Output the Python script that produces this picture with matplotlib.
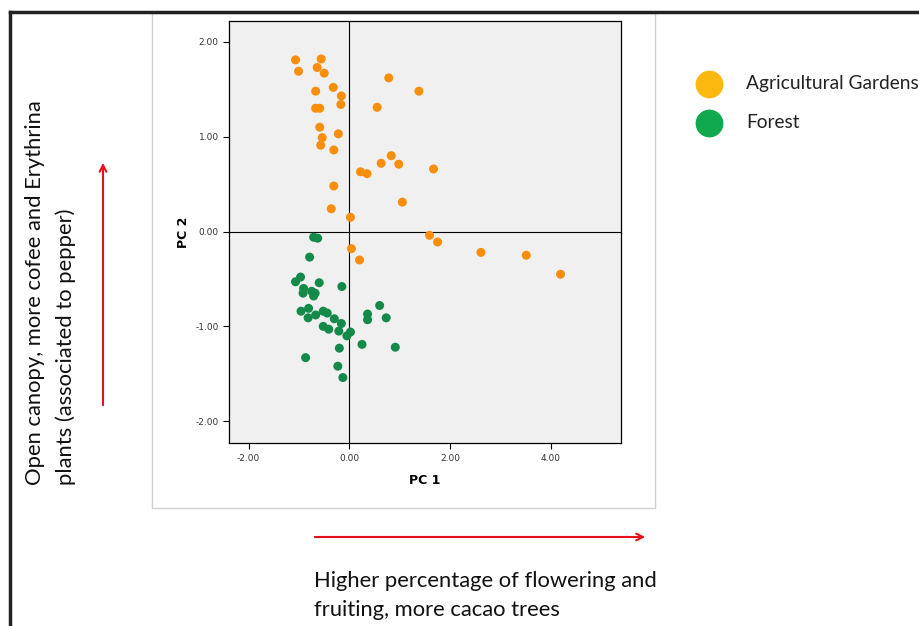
import matplotlib.pyplot as plt
from matplotlib.patches import FancyArrowPatch, Rectangle
from matplotlib.lines import Line2D

# PCA scores
ag_x = [-1.07, -1.01, -0.56, -0.64, -0.50, 0.78, 1.38, -0.67, -0.32, -0.16,
        -0.17, 0.55, -0.67, -0.59, -0.59, -0.54, -0.57, -0.22, -0.31, 0.83,
        0.63, 0.98, 1.67, 0.22, 0.35, -0.31, 1.05, -0.36, 0.02, 1.59,
        1.75, 0.04, 0.20, 2.61, 3.51, 4.19]
ag_y = [1.81, 1.69, 1.82, 1.73, 1.67, 1.62, 1.48, 1.48, 1.52, 1.43,
        1.34, 1.31, 1.30, 1.30, 1.10, 0.99, 0.91, 1.03, 0.86, 0.80,
        0.72, 0.71, 0.66, 0.63, 0.61, 0.48, 0.31, 0.24, 0.15, -0.04,
        -0.11, -0.18, -0.30, -0.22, -0.25, -0.45]

forest_x = [-0.71, -0.63, -0.79, -0.97, -1.07, -0.60, -0.15, -0.91, -0.92, -0.75,
            -0.68, -0.71, 0.60, 0.36, 0.36, 0.73, -0.96, -0.81, -0.82, -0.67,
            -0.52, -0.44, -0.30, -0.16, -0.52, -0.41, -0.21, 0.02, -0.05, 0.25,
            -0.20, 0.91, -0.87, -0.23, -0.13]
forest_y = [-0.06, -0.07, -0.27, -0.48, -0.53, -0.54, -0.58, -0.60, -0.65, -0.63,
            -0.65, -0.68, -0.78, -0.87, -0.93, -0.91, -0.84, -0.81, -0.91, -0.88,
            -0.84, -0.86, -0.92, -0.97, -1.00, -1.03, -1.05, -1.06, -1.10, -1.19,
            -1.23, -1.22, -1.33, -1.42, -1.54]

ticks = [-2, 0, 2, 4]
yticks = [-2, -1, 0, 1, 2]
legend_labels = ['Agricultural Gardens', 'Forest']

W, H = 920, 626
fig = plt.figure(figsize=(9.2, 6.26), dpi=100)
fig.patch.set_facecolor('white')

def px(x, y):
    return (x / W, 1 - y / H)

# outer frame (top and left edges only visible)
fig.add_artist(Line2D([10 / W, 1], [1 - 12 / H] * 2, color='#222222', lw=2.5))
fig.add_artist(Line2D([10 / W] * 2, [1 - 12 / H, 0], color='#222222', lw=2.5))

# SPSS chart panel border
x0, y0 = px(152, 508)
fig.add_artist(Rectangle((x0, y0), (655 - 152) / W, (508 - 13) / H,
                         fill=False, edgecolor='#cfcfcf', lw=1))

ax = fig.add_axes([229 / W, 1 - 443 / H, (621 - 229) / W, (443 - 21) / H])
ax.set_facecolor('#f0f0f0')
ax.axvline(0, color='black', lw=0.8, zorder=1)
ax.axhline(0, color='black', lw=0.8, zorder=1)
ax.scatter(ag_x, ag_y, s=42, color='#f98e0c', edgecolors='none', zorder=3)
ax.scatter(forest_x, forest_y, s=42, color='#138a4a', edgecolors='none', zorder=3)
ax.set_xlim(-2.39, 5.39)
ax.set_ylim(-2.23, 2.22)
ax.set_xticks(ticks)
ax.set_xticklabels(['%.2f' % t for t in ticks])
ax.set_yticks(yticks)
ax.set_yticklabels(['%.2f' % t for t in yticks])
ax.tick_params(labelsize=6.5, length=4, width=0.8, colors='black', labelcolor='#333333')
ax.tick_params(axis='x', pad=4)
for s in ax.spines.values():
    s.set_linewidth(0.9)
ax.set_xlabel('PC 1', fontsize=9, fontweight='bold', labelpad=8)
ax.set_ylabel('PC 2', fontsize=9, fontweight='bold', labelpad=4)

# legend drawn by hand to match the slide
font = 'Lato'
leg_colors = ['#fbb80f', '#10a94f']
for i, (lab, c) in enumerate(zip(legend_labels, leg_colors)):
    yy = 84 + i * 39
    fig.add_artist(Line2D([709 / W], [1 - yy / H], marker='o', markersize=20,
                          color=c, markeredgecolor='none'))
    fig.text(746 / W, 1 - yy / H, lab, fontsize=13.8, family=font,
             va='center', ha='left', color='#222222')

# red direction arrows
fig.add_artist(FancyArrowPatch(px(103, 408), px(103, 160), arrowstyle='->',
                               mutation_scale=12, color='#e8101a', lw=1.5,
                               transform=fig.transFigure))
fig.add_artist(FancyArrowPatch(px(312, 537), px(648, 537), arrowstyle='->',
                               mutation_scale=12, color='#e8101a', lw=1.5,
                               transform=fig.transFigure))

fs = 15.8
fig.text(35 / W, 1 - 485 / H, 'Open canopy, more cofee and Erythrina',
         rotation=90, fontsize=fs, family=font, ha='center', va='bottom', color='#111111')
fig.text(66 / W, 1 - 485 / H, 'plants (associated to pepper)',
         rotation=90, fontsize=fs, family=font, ha='center', va='bottom', color='#111111')
fig.text(314 / W, 1 - 581 / H, 'Higher percentage of flowering and',
         fontsize=fs, family=font, ha='left', va='center', color='#111111')
fig.text(314 / W, 1 - 610 / H, 'fruiting, more cacao trees',
         fontsize=fs, family=font, ha='left', va='center', color='#111111')

fig.savefig('out.png', dpi=100)
